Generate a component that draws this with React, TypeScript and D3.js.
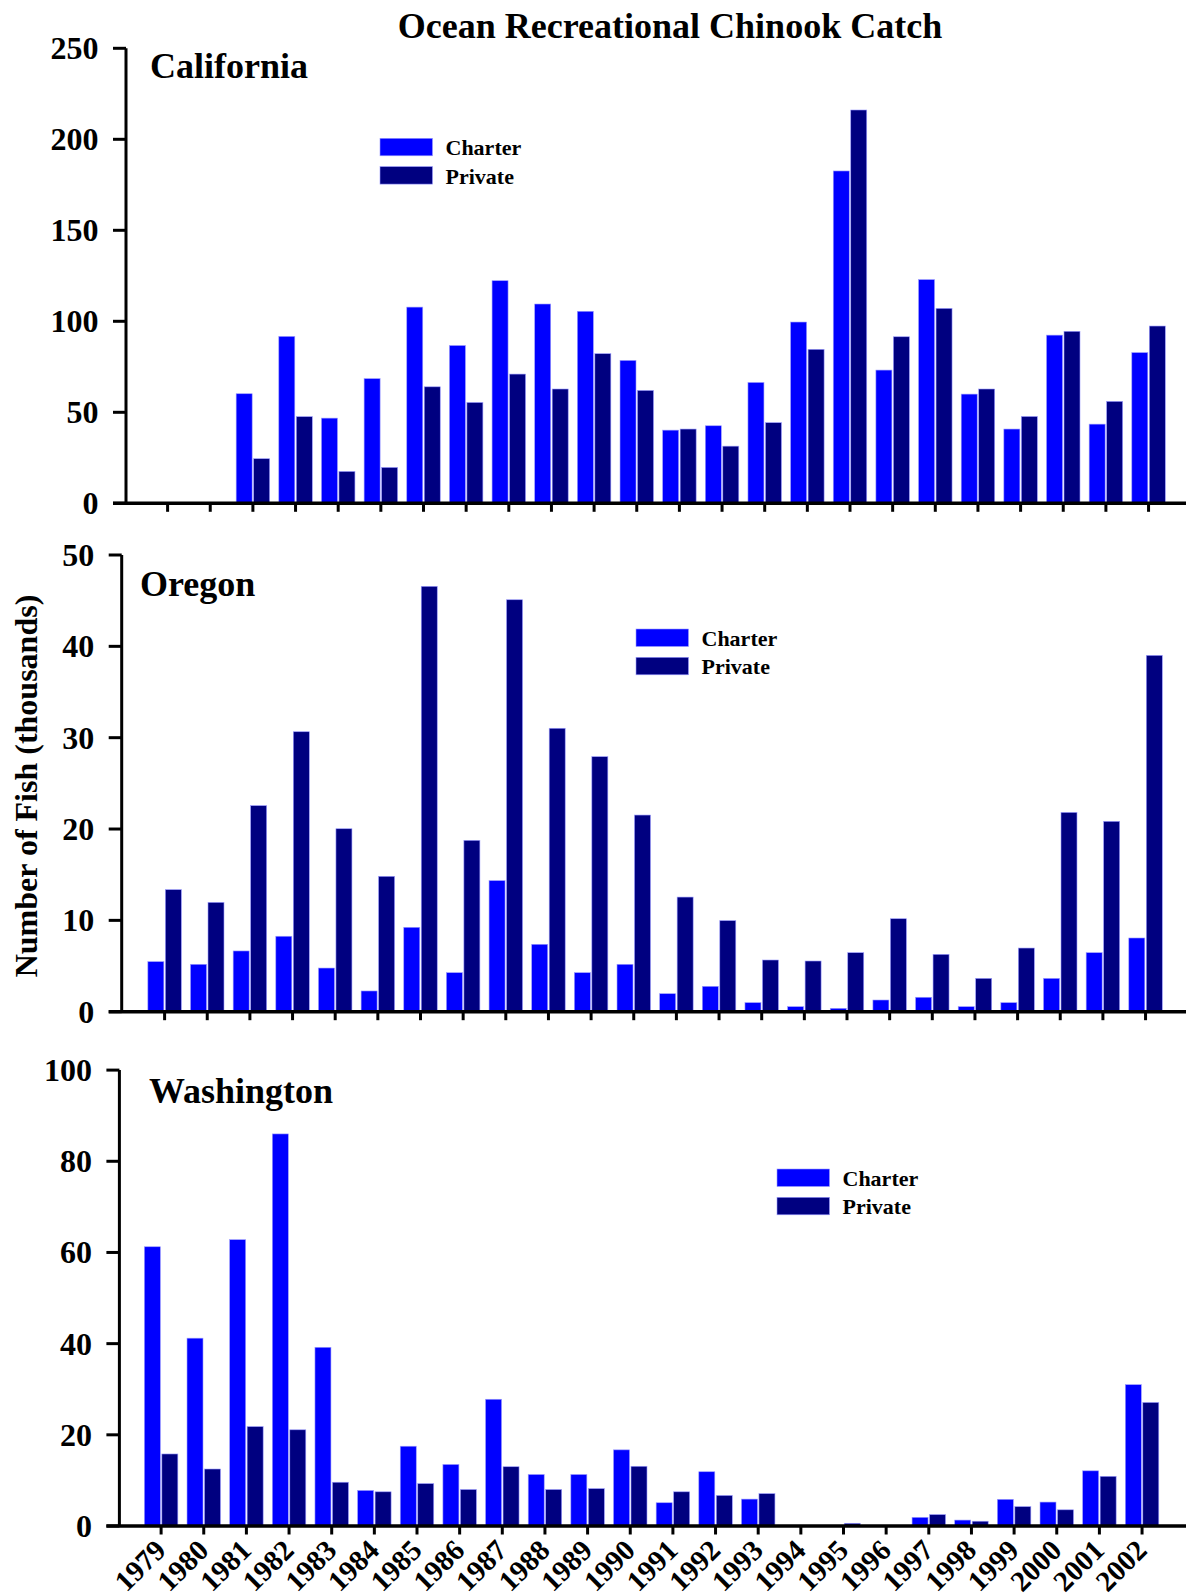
import React from "react";
import * as d3 from "d3";

const years = ["1979","1980","1981","1982","1983","1984","1985","1986","1987","1988","1989","1990","1991","1992","1993","1994","1995","1996","1997","1998","1999","2000","2001","2002"];

const caCharter = [0, 0, 60.2, 91.7, 46.8, 68.5, 107.8, 86.7, 122.3, 109.5, 105.5, 78.5, 40.2, 42.6, 66.4, 99.6, 182.6, 73.2, 122.9, 60.0, 40.8, 92.4, 43.5, 82.8];
const caPrivate = [0, 0, 24.5, 47.6, 17.5, 19.7, 64.0, 55.4, 71.0, 62.8, 82.2, 62.0, 40.8, 31.4, 44.3, 84.6, 216.1, 91.5, 107.1, 62.8, 47.7, 94.5, 56.0, 97.4];

const orCharter = [5.48, 5.19, 6.65, 8.26, 4.78, 2.27, 9.24, 4.27, 14.35, 7.38, 4.27, 5.19, 1.97, 2.78, 0.99, 0.55, 0.37, 1.28, 1.58, 0.55, 0.99, 3.65, 6.46, 8.07];
const orPrivate = [13.36, 11.97, 22.56, 30.65, 20.03, 14.82, 46.57, 18.76, 45.1, 31.03, 27.92, 21.53, 12.55, 9.97, 5.66, 5.55, 6.46, 10.18, 6.28, 3.65, 6.97, 21.82, 20.84, 39.01];

const waCharter = [61.25, 41.2, 62.8, 86.0, 39.2, 7.8, 17.5, 13.5, 27.8, 11.3, 11.3, 16.7, 5.1, 11.9, 5.9, 0, 0, 0, 1.9, 1.3, 5.85, 5.25, 12.1, 31.0];
const waPrivate = [15.8, 12.5, 21.8, 21.1, 9.6, 7.5, 9.3, 8.0, 13.0, 8.0, 8.2, 13.1, 7.5, 6.7, 7.1, 0, 0.6, 0, 2.5, 1.05, 4.25, 3.55, 10.9, 27.1];

const caTicks = [0, 50, 100, 150, 200, 250];
const orTicks = [0, 10, 20, 30, 40, 50];
const waTicks = [0, 20, 40, 60, 80, 100];

const seriesNames = ["Charter", "Private"];
const seriesColors = ["#0000ff", "#000080"];

const FONT = "'Liberation Serif', 'Times New Roman', Times, serif";

interface PanelLayout {
  name: string;
  charter: number[];
  priv: number[];
  ticks: number[];
  axisX: number;
  yTop: number;
  y0: number;
  firstCenter: number;
  labelX: number;
  labelY: number;
  legendX: number;
  legendY: number;
  yearLabels: boolean;
}

const panels: PanelLayout[] = [
  { name: "California", charter: caCharter, priv: caPrivate, ticks: caTicks, axisX: 126, yTop: 48.3, y0: 503.3, firstCenter: 167.6, labelX: 150, labelY: 78.3, legendX: 380, legendY: 138.3, yearLabels: false },
  { name: "Oregon", charter: orCharter, priv: orPrivate, ticks: orTicks, axisX: 121.7, yTop: 555, y0: 1011.7, firstCenter: 164.6, labelX: 140, labelY: 596, legendX: 636, legendY: 629, yearLabels: false },
  { name: "Washington", charter: waCharter, priv: waPrivate, ticks: waTicks, axisX: 119.4, yTop: 1070.1, y0: 1526, firstCenter: 161.1, labelX: 149, labelY: 1103, legendX: 777, legendY: 1169, yearLabels: true },
];

const STEP = 42.65;

function Panel({ p }: { p: PanelLayout }) {
  const x = d3
    .scaleBand<string>()
    .domain(years)
    .range([p.firstCenter - STEP / 2, p.firstCenter - STEP / 2 + STEP * years.length])
    .padding(0);
  const y = d3
    .scaleLinear()
    .domain([0, p.ticks[p.ticks.length - 1]])
    .range([p.y0, p.yTop]);
  const bw = x.bandwidth() * 0.375;
  const gap = x.bandwidth() * 0.035;
  const center = (yr: string) => (x(yr) as number) + x.bandwidth() / 2;

  return (
    <g>
      {years.map((yr, i) => {
        const c = center(yr);
        const vals = [p.charter[i], p.priv[i]];
        return vals.map((v, k) => {
          if (!v || v <= 0) return null;
          const bx = k === 0 ? c - gap / 2 - bw : c + gap / 2;
          return (
            <rect
              key={yr + k}
              x={bx}
              y={y(v)}
              width={bw}
              height={p.y0 - y(v)}
              fill={seriesColors[k]}
              stroke="#9c9cff"
              strokeWidth={0.6}
            />
          );
        });
      })}
      <line x1={p.axisX} x2={p.axisX} y1={p.yTop} y2={p.y0} stroke="#000" strokeWidth={3} />
      {p.ticks.map((t) => (
        <g key={"t" + t}>
          <line x1={p.axisX - 13} x2={p.axisX} y1={y(t)} y2={y(t)} stroke="#000" strokeWidth={3} />
          <text
            x={p.axisX - 27.5}
            y={y(t)}
            dy="0.34em"
            textAnchor="end"
            fontFamily={FONT}
            fontWeight="bold"
            fontSize={32}
            fill="#000"
          >
            {t}
          </text>
        </g>
      ))}
      <line x1={p.axisX - 13} x2={1186} y1={p.y0} y2={p.y0} stroke="#000" strokeWidth={3.5} />
      {years.map((yr) => (
        <line key={"xt" + yr} x1={center(yr)} x2={center(yr)} y1={p.y0} y2={p.y0 + 8.5} stroke="#000" strokeWidth={3} />
      ))}
      {p.yearLabels &&
        years.map((yr) => {
          const tx = center(yr) + 6.5;
          const ty = p.y0 + 26;
          return (
            <text
              key={"yl" + yr}
              x={tx}
              y={ty}
              transform={`rotate(-45 ${tx} ${ty})`}
              textAnchor="end"
              fontFamily={FONT}
              fontWeight="bold"
              fontSize={29}
              fill="#000"
            >
              {yr}
            </text>
          );
        })}
      <text x={p.labelX} y={p.labelY} fontFamily={FONT} fontWeight="bold" fontSize={36} fill="#000">
        {p.name}
      </text>
      {seriesNames.map((s, k) => (
        <g key={"lg" + s}>
          <rect
            x={p.legendX}
            y={p.legendY + k * 28.3}
            width={52.5}
            height={17.5}
            fill={seriesColors[k]}
            stroke="#9c9cff"
            strokeWidth={0.6}
          />
          <text
            x={p.legendX + 65.5}
            y={p.legendY + k * 28.3 + 17}
            fontFamily={FONT}
            fontWeight="bold"
            fontSize={22}
            fill="#000"
          >
            {s}
          </text>
        </g>
      ))}
    </g>
  );
}

export default function App() {
  return (
    <svg
      width={1188}
      height={1594}
      viewBox="0 0 1188 1594"
      style={{ position: "absolute", left: 0, top: 0, display: "block", background: "#fff" }}
    >
      <rect x={0} y={0} width={1188} height={1594} fill="#fff" />
      <text x={670} y={38} textAnchor="middle" fontFamily={FONT} fontWeight="bold" fontSize={36} fill="#000">
        Ocean Recreational Chinook Catch
      </text>
      <text
        x={36.5}
        y={786}
        transform="rotate(-90 36.5 786)"
        textAnchor="middle"
        fontFamily={FONT}
        fontWeight="bold"
        fontSize={32}
        fill="#000"
      >
        Number of Fish (thousands)
      </text>
      {panels.map((p) => (
        <Panel key={p.name} p={p} />
      ))}
    </svg>
  );
}
